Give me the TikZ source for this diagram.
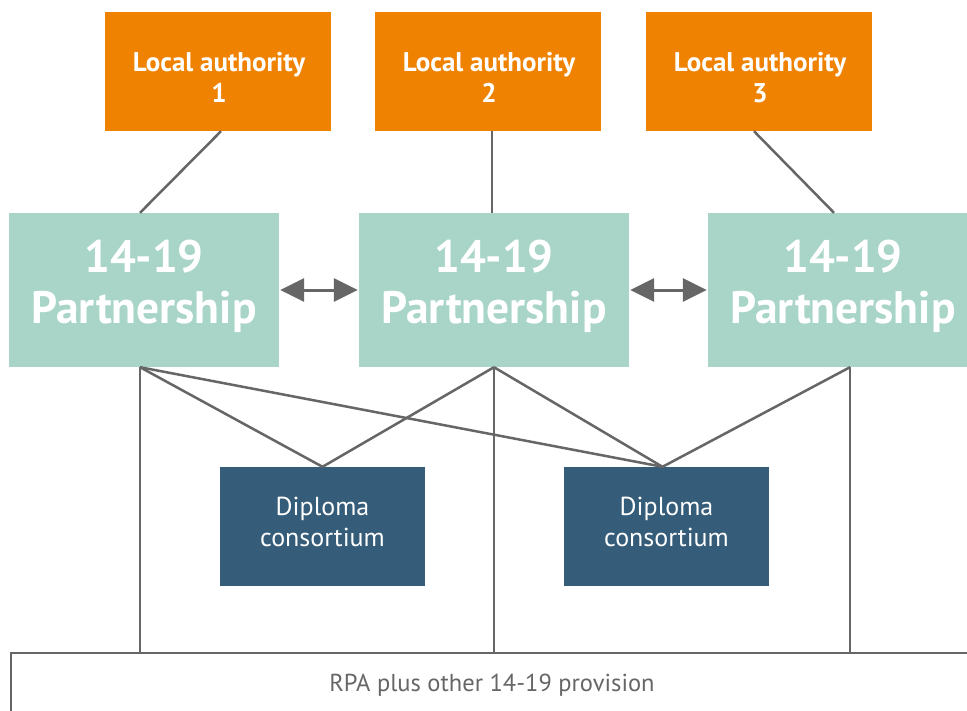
\documentclass[tikz,border=0pt]{standalone}
\usepackage{fontspec}
\setmainfont{PT Sans}
\usetikzlibrary{arrows.meta,calc}
\definecolor{laorange}{HTML}{EF8200}
\definecolor{pteal}{HTML}{A8D5C8}
\definecolor{dnavy}{HTML}{355C78}
\definecolor{lgray}{HTML}{666666}
\begin{document}
\begin{tikzpicture}[x=1pt,y=-1pt,
  labox/.style={fill=laorange, minimum width=226pt, minimum height=119pt, inner sep=0pt},
  pbox/.style={fill=pteal, minimum width=270pt, minimum height=154pt, inner sep=0pt},
  dbox/.style={fill=dnavy, minimum width=205pt, minimum height=119pt, inner sep=0pt},
  latext/.style={anchor=base, inner sep=0pt, text=white, font=\bfseries\fontsize{27}{31}\selectfont},
  ptext/.style={anchor=base, inner sep=0pt, text=white, font=\bfseries\fontsize{45.5}{51}\selectfont},
  dtext/.style={anchor=base, inner sep=0pt, text=white, font=\fontsize{26}{31}\selectfont},
  rtext/.style={anchor=base, inner sep=0pt, text=lgray, font=\fontsize{24.5}{28}\selectfont},
  conn/.style={draw=lgray, line width=2.5pt},
  twoway/.style={draw=lgray, line width=3pt, {Triangle[length=24pt,width=23pt]}-{Triangle[length=24pt,width=23pt]}}
]
\useasboundingbox (0,0) rectangle (967,710);
\fill[white] (0,0) rectangle (967,710);
% Local authorities
\node[labox] (la1) at (218,71.5) {};
\node[labox] (la2) at (488,71.5) {};
\node[labox] (la3) at (759,71.5) {};
\node[latext] (la1a) at (219,71) {Local authority};
\node[latext] (la1b) at (219,102) {1};
\node[latext] (la2a) at (489,71) {Local authority};
\node[latext] (la2b) at (489,102) {2};
\node[latext] (la3a) at (760,71) {Local authority};
\node[latext] (la3b) at (760,102) {3};
% Partnerships
\node[pbox] (p1) at (144,290) {};
\node[pbox] (p2) at (494,290) {};
\node[pbox] (p3) at (843,290) {};
\foreach \n/\x in {p1/144,p2/494,p3/843}{
  \node[ptext] (\n a) at (\x,272) {14-19};
  \node[ptext] (\n b) at (\x,323) {Partnership};
}
% Diploma consortia
\node[dbox] (d1) at (322.5,526.5) {};
\node[dbox] (d2) at (666.5,526.5) {};
\node[dtext] (d1a) at (322.5,515) {Diploma};
\node[dtext] (d1b) at (322.5,546) {consortium};
\node[dtext] (d2a) at (666.5,515) {Diploma};
\node[dtext] (d2b) at (666.5,546) {consortium};
% Bottom provision box
\node[draw=lgray, line width=2pt, fill=white, minimum width=965pt, minimum height=80pt, inner sep=0pt, anchor=north west] (rpa) at (10,652) {};
\node[rtext] (rpatext) at (492,691) {RPA plus other 14-19 provision};
% anchor points
\coordinate (p1b) at ([xshift=-4pt]p1.south);
\coordinate (p2b) at (p2.south);
\coordinate (p3b) at ([xshift=7pt]p3.south);
\coordinate (d1t) at (d1.north);
\coordinate (d2t) at ([xshift=-4pt]d2.north);
% LA to partnerships
\draw[conn] ([xshift=3pt]la1.south) -- ([xshift=-4pt]p1.north);
\draw[conn] ([xshift=4pt]la2.south) -- ([xshift=-2pt]p2.north);
\draw[conn] ([xshift=-5pt]la3.south) -- ([xshift=-9pt]p3.north);
% partnerships to diplomas
\draw[conn] (p1b) -- (d1t);
\draw[conn] (p1b) -- (d2t);
\draw[conn] (p2b) -- (d1t);
\draw[conn] (p2b) -- (d2t);
\draw[conn] (p3b) -- (d2t);
% partnerships to provision
\draw[conn] (p1b) -- (p1b |- rpa.north);
\draw[conn] (p2b) -- (p2b |- rpa.north);
\draw[conn] (p3b) -- (p3b |- rpa.north);
% two-way arrows
\draw[twoway] ([xshift=1pt]p1.east) -- ([xshift=-1pt]p2.west);
\draw[twoway] ([xshift=1pt]p2.east) -- ([xshift=-1pt]p3.west);
\end{tikzpicture}
\end{document}
